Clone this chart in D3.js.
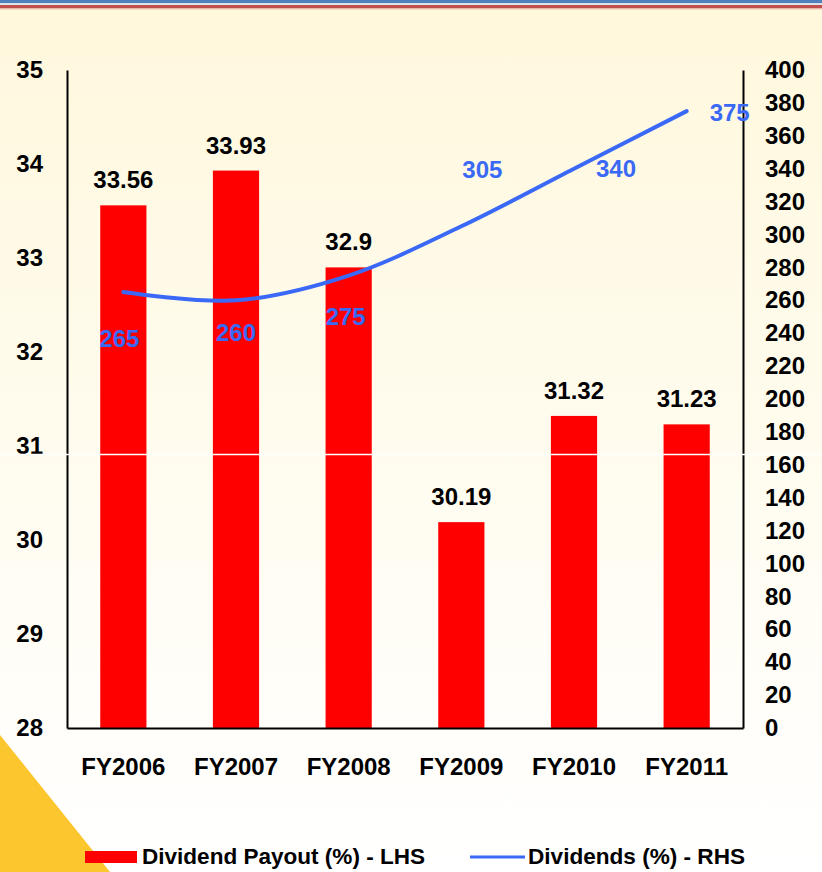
<!DOCTYPE html>
<html>
<head>
<meta charset="utf-8">
<script src="https://cdn.jsdelivr.net/npm/d3@7"></script>
<style>
  html, body { margin: 0; padding: 0; background: #ffffff; }
  svg { display: block; }
  text { font-family: "Liberation Sans", Arial, sans-serif; font-weight: bold; }
</style>
</head>
<body>
<svg id="chart" width="822" height="872"></svg>
<script>
// Fiscal years shown on the category axis
const years = ["FY2006", "FY2007", "FY2008", "FY2009", "FY2010", "FY2011"];
// Dividend payout ratio (%), left-hand axis, drawn as bars
const payout = [33.56, 33.93, 32.9, 30.19, 31.32, 31.23];
// Dividends (%), right-hand axis, drawn as a line
const dividends = [265, 260, 275, 305, 340, 375];
// Axis ticks
const leftTicks = [28, 29, 30, 31, 32, 33, 34, 35];
const rightTicks = d3.range(0, 401, 20);
// Legend entries
const legendItems = ["Dividend Payout (%) - LHS", "Dividends (%) - RHS"];

const W = 822, H = 872;
const plot = { left: 67, right: 743, top: 70, bottom: 728 };
const barColor = "#ff0000";
const lineColor = "#3b69f7";

const svg = d3.select("#chart");
const defs = svg.append("defs");

// Page background: warm cream fading to white toward the bottom
const bg = defs.append("linearGradient").attr("id", "bg")
  .attr("x1", 0).attr("y1", 0).attr("x2", 0).attr("y2", 1);
bg.append("stop").attr("offset", "0%").attr("stop-color", "#fff8dc");
bg.append("stop").attr("offset", "55%").attr("stop-color", "#fffcf0");
bg.append("stop").attr("offset", "100%").attr("stop-color", "#ffffff");
svg.append("rect").attr("width", W).attr("height", H).attr("fill", "url(#bg)");

// Decorative header stripes
svg.append("rect").attr("x", 0).attr("y", 0).attr("width", W).attr("height", 3.3).attr("fill", "#4f81bd");
svg.append("rect").attr("x", 0).attr("y", 3.3).attr("width", W).attr("height", 1.7).attr("fill", "#dfe6ee");
svg.append("rect").attr("x", 0).attr("y", 5).attr("width", W).attr("height", 3.4).attr("fill", "#c0504d");
svg.append("rect").attr("x", 0).attr("y", 8.4).attr("width", W).attr("height", 1).attr("fill", "#eab8a8");

// Yellow corner triangle
svg.append("path")
  .attr("d", `M0,735 L110,${H} L0,${H} Z`)
  .attr("fill", "#fcc62e");

// Scales
const x = d3.scaleBand().domain(years)
  .range([plot.left, plot.right])
  .paddingInner(0.59).paddingOuter(0.295);
const yL = d3.scaleLinear().domain([28, 35]).range([plot.bottom, plot.top]);
const yR = d3.scaleLinear().domain([0, 400]).range([plot.bottom, plot.top]);
const cx = d => x(d) + x.bandwidth() / 2;

// Bars
svg.append("g").selectAll("rect").data(years).join("rect")
  .attr("x", d => x(d))
  .attr("width", x.bandwidth())
  .attr("y", (d, i) => yL(payout[i]))
  .attr("height", (d, i) => yL(28) - yL(payout[i]))
  .attr("fill", barColor);

// Bar value labels
svg.append("g").selectAll("text").data(years).join("text")
  .attr("x", d => cx(d))
  .attr("y", (d, i) => yL(payout[i]) - 17)
  .attr("text-anchor", "middle")
  .attr("font-size", 24)
  .attr("fill", "#000")
  .text((d, i) => payout[i]);

// Axes (plain lines, no tick marks)
const axisL = d3.axisLeft(yL).tickValues(leftTicks).tickFormat(d3.format("d")).tickSize(0).tickPadding(24);
const axisR = d3.axisRight(yR).tickValues(rightTicks).tickFormat(d3.format("d")).tickSize(0).tickPadding(22);
const axisB = d3.axisBottom(x).tickSize(0).tickPadding(30);

const gL = svg.append("g").attr("transform", `translate(${plot.left},0)`).call(axisL);
const gR = svg.append("g").attr("transform", `translate(${plot.right},0)`).call(axisR);
const gB = svg.append("g").attr("transform", `translate(0,${plot.bottom})`).call(axisB);

[gL, gR, gB].forEach(g => {
  g.select(".domain").attr("stroke", "#000").attr("stroke-width", 2);
  g.selectAll("text")
    .attr("font-family", "Liberation Sans, Arial, sans-serif")
    .attr("font-weight", "bold")
    .attr("font-size", 24)
    .attr("fill", "#000");
});
gL.selectAll("text").attr("text-anchor", "end");
gR.selectAll("text").attr("text-anchor", "start");
gB.selectAll("text").attr("dy", "0.71em");

// Dividends line
const line = d3.line()
  .x((d, i) => cx(years[i]))
  .y(d => yR(d))
  .curve(d3.curveCardinal.tension(0));
svg.append("path")
  .datum(dividends)
  .attr("d", line)
  .attr("fill", "none")
  .attr("stroke", lineColor)
  .attr("stroke-width", 4)
  .attr("stroke-linecap", "round");

// Line value labels, nudged away from the curve
const lineLabelNudge = [[-4, 46], [0, 32], [-3, 41], [21, -57], [42, 0], [43, 1]];
svg.append("g").selectAll("text").data(dividends).join("text")
  .attr("x", (d, i) => cx(years[i]) + lineLabelNudge[i][0])
  .attr("y", (d, i) => yR(d) + lineLabelNudge[i][1])
  .attr("dy", "0.36em")
  .attr("text-anchor", "middle")
  .attr("font-size", 24)
  .attr("fill", lineColor)
  .text(d => d);

// Thin white rule running across the page
svg.append("line")
  .attr("x1", 0).attr("x2", W)
  .attr("y1", 454.5).attr("y2", 454.5)
  .attr("stroke", "#ffffff").attr("stroke-width", 1.5);

// Legend
const legend = svg.append("g");
legend.append("rect").attr("x", 85).attr("y", 851).attr("width", 52).attr("height", 12).attr("fill", barColor);
legend.append("text").attr("x", 142).attr("y", 864).attr("font-size", 22).attr("fill", "#000")
  .attr("textLength", 283).attr("lengthAdjust", "spacingAndGlyphs")
  .text(legendItems[0]);
legend.append("line").attr("x1", 470).attr("x2", 525).attr("y1", 857).attr("y2", 857)
  .attr("stroke", lineColor).attr("stroke-width", 3);
legend.append("text").attr("x", 528).attr("y", 864).attr("font-size", 22).attr("fill", "#000")
  .attr("textLength", 217).attr("lengthAdjust", "spacingAndGlyphs")
  .text(legendItems[1]);
</script>
</body>
</html>
